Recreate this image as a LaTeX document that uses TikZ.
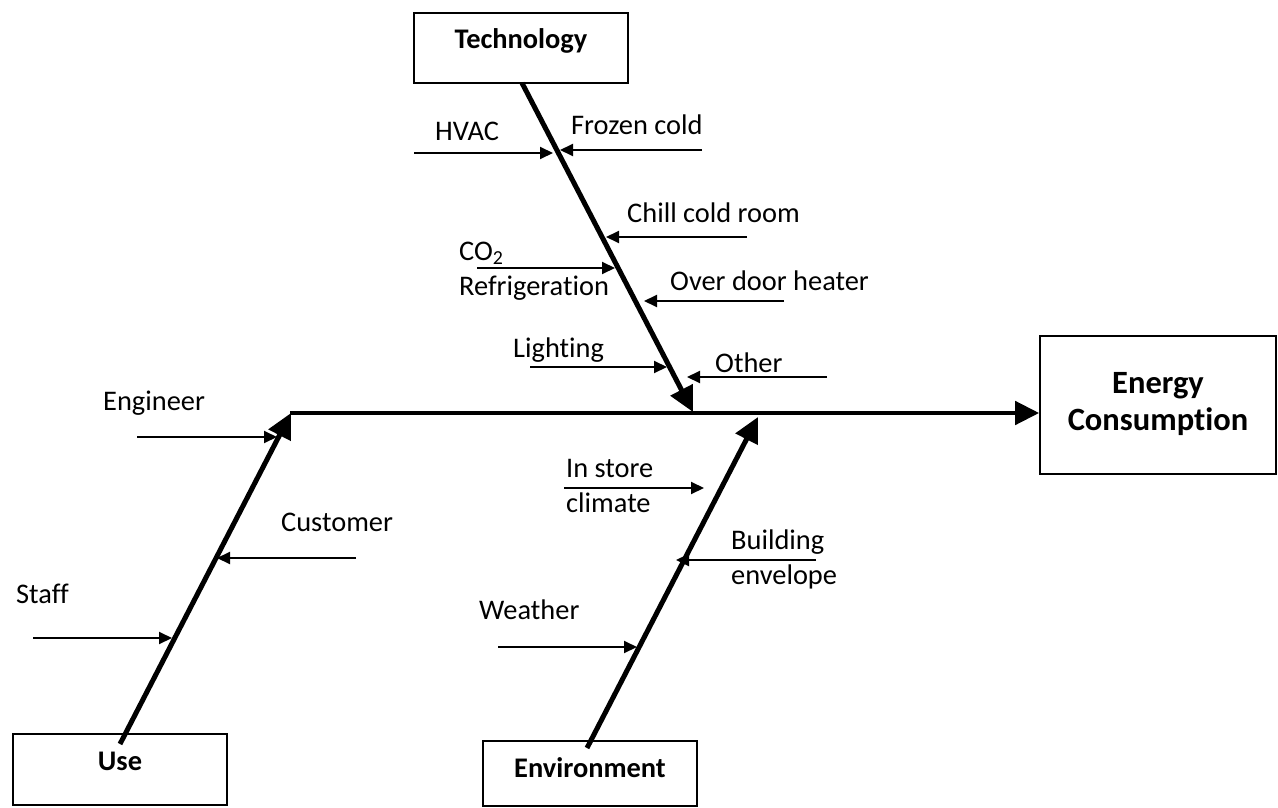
\documentclass[tikz,border=0pt]{standalone}
\usepackage{fontspec}
\setmainfont{Carlito}[Ligatures={NoCommon}]
\usetikzlibrary{arrows.meta}
\begin{document}
\begin{tikzpicture}[x=1pt,y=-1pt,
  font=\fontsize{28.4}{34}\selectfont,
  box/.style={draw,line width=1.6pt,inner sep=0,minimum width=#1},
  lbl/.style={inner sep=0,anchor=base west},
  blbl/.style={inner sep=0,anchor=base,font=\fontsize{28.4}{34}\selectfont\bfseries},
  bigblbl/.style={inner sep=0,anchor=base,font=\fontsize{32.5}{38}\selectfont\bfseries},
  bone/.style={line width=5pt,-{Triangle[length=25pt,width=24pt]}},
  spine/.style={line width=4.6pt,-{Triangle[length=24pt,width=23pt]}},
  rib/.style={line width=2pt,-{Triangle[length=13pt,width=12pt]}}]
\useasboundingbox (0,0) rectangle (1278,808);
% boxes
\node[box=214pt,minimum height=70pt] (tech) at (521,48) {};
\node[blbl] (techl) at (521,49) {Technology};
\node[box=214pt,minimum height=71pt] (use) at (120,769.5) {};
\node[blbl] (usel) at (120,770) {Use};
\node[box=214pt,minimum height=65pt] (env) at (590,773.5) {};
\node[blbl] (envl) at (590,777) {Environment};
\node[box=236pt,minimum height=138pt] (energy) at (1158,405) {};
\node[bigblbl] (energyl1) at (1158,393) {Energy};
\node[bigblbl] (energyl2) at (1158,430) {Consumption};
% spine
\coordinate (s0) at (290,413);
\draw[spine] (s0) -- (energy.west |- s0);
% bones
\coordinate (t0) at (522,83);
\coordinate (t1) at (693,412);
\draw[bone] (t0) -- (t1);
\coordinate (u0) at (120,744);
\coordinate (u1) at (291,413);
\draw[bone] (u0) -- (u1);
\coordinate (e0) at (587,748);
\coordinate (e1) at (758,417);
\draw[bone] (e0) -- (e1);
% technology ribs
\coordinate (hvA) at (414,153); \coordinate (hvB) at (553,153);
\draw[rib] (hvA) -- (hvB);
\node[lbl] (hvl) at (435,140) {HVAC};
\coordinate (frA) at (702,150); \coordinate (frB) at (560,150);
\draw[rib] (frA) -- (frB);
\node[lbl] (frl) at (571,135) {Frozen cold};
\coordinate (chA) at (747,237); \coordinate (chB) at (606,237);
\draw[rib] (chA) -- (chB);
\node[lbl] (chl) at (627,222) {Chill cold room};
\coordinate (coA) at (477,268); \coordinate (coB) at (615,268);
\draw[rib] (coA) -- (coB);
\node[lbl] (col1) at (459,260) {CO\textsubscript{2}};
\node[lbl] (col2) at (459,295) {Refrigeration};
\coordinate (ovA) at (784,301); \coordinate (ovB) at (644,301);
\draw[rib] (ovA) -- (ovB);
\node[lbl] (ovl) at (670,290) {Over door heater};
\coordinate (liA) at (530,367); \coordinate (liB) at (667,367);
\draw[rib] (liA) -- (liB);
\node[lbl] (lil) at (513,357) {Lighting};
\coordinate (otA) at (827,377); \coordinate (otB) at (687,377);
\draw[rib] (otA) -- (otB);
\node[lbl] (otl) at (715,372) {Other};
% use ribs
\coordinate (enA) at (137,437); \coordinate (enB) at (277,437);
\draw[rib] (enA) -- (enB);
\node[lbl] (enl) at (103,410) {Engineer};
\coordinate (cuA) at (356,558); \coordinate (cuB) at (217,558);
\draw[rib] (cuA) -- (cuB);
\node[lbl] (cul) at (281,531) {Customer};
\coordinate (stA) at (33,638); \coordinate (stB) at (172,638);
\draw[rib] (stA) -- (stB);
\node[lbl] (stl) at (16,603) {Staff};
% environment ribs
\coordinate (isA) at (564,488); \coordinate (isB) at (704,488);
\draw[rib] (isA) -- (isB);
\node[lbl] (isl1) at (566,477) {In store};
\node[lbl] (isl2) at (566,512) {climate};
\coordinate (buA) at (816,560); \coordinate (buB) at (676,560);
\draw[rib] (buA) -- (buB);
\node[lbl] (bul1) at (731,549) {Building};
\node[lbl] (bul2) at (731,584) {envelope};
\coordinate (weA) at (498,647); \coordinate (weB) at (637,647);
\draw[rib] (weA) -- (weB);
\node[lbl] (wel) at (479,619) {Weather};
\end{tikzpicture}
\end{document}
